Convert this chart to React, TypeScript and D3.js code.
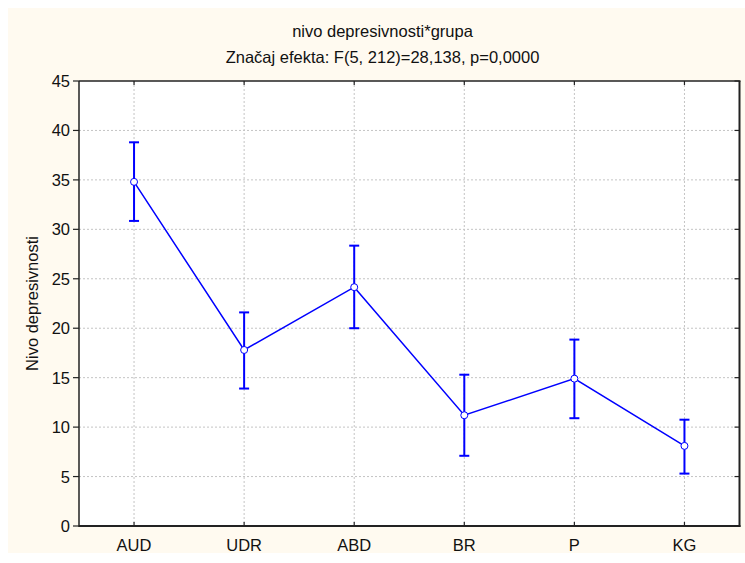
import React, { useEffect, useRef } from "react";
import * as d3 from "d3";

const categories = ["AUD", "UDR", "ABD", "BR", "P", "KG"];
const means = [34.8, 17.8, 24.15, 11.2, 14.9, 8.1];
const upper = [38.8, 21.6, 28.35, 15.3, 18.85, 10.75];
const lower = [30.85, 13.9, 20.0, 7.1, 10.9, 5.3];
const yTicks = [0, 5, 10, 15, 20, 25, 30, 35, 40, 45];
const title1 = "nivo depresivnosti*grupa";
const title2 = "Značaj efekta: F(5, 212)=28,138, p=0,0000";
const yLabel = "Nivo depresivnosti";

const W = 745, H = 563;
const L = 79, R = 739.5, T = 81, B = 526;
const FONT = "Arial, 'Liberation Sans', sans-serif";
const FS = 16.5;

export default function App() {
  const ref = useRef<SVGSVGElement>(null);
  useEffect(() => {
    const svg = d3.select(ref.current);
    svg.selectAll("*").remove();
    const x = d3.scalePoint<string>().domain(categories).range([L, R]).padding(0.5);
    const y = d3.scaleLinear().domain([0, 45]).range([B, T]);

    svg.append("rect").attr("x", 8).attr("y", 8).attr("width", W - 8).attr("height", 545).attr("fill", "#fffaf0");
    svg.append("rect").attr("x", L).attr("y", T).attr("width", R - L).attr("height", B - T).attr("fill", "#ffffff");

    // grid
    const g = svg.append("g");
    g.selectAll("line.gy").data(yTicks.filter(t => t > 0 && t < 45)).join("line")
      .attr("x1", L).attr("x2", R).attr("y1", d => y(d)).attr("y2", d => y(d))
      .attr("stroke", "#c4c4c4").attr("stroke-width", 1).attr("stroke-dasharray", "2,2");
    g.selectAll("line.gx").data(categories).join("line")
      .attr("x1", d => x(d)!).attr("x2", d => x(d)!).attr("y1", T).attr("y2", B)
      .attr("stroke", "#c4c4c4").attr("stroke-width", 1).attr("stroke-dasharray", "2,2");

    // frame
    svg.append("line").attr("x1", L).attr("x2", R + 1).attr("y1", T).attr("y2", T).attr("stroke", "#222").attr("stroke-width", 1.5);
    svg.append("line").attr("x1", L).attr("x2", R + 1).attr("y1", B).attr("y2", B).attr("stroke", "#222").attr("stroke-width", 2);
    svg.append("line").attr("x1", L).attr("x2", L).attr("y1", T).attr("y2", B + 1).attr("stroke", "#222").attr("stroke-width", 1.5);
    svg.append("line").attr("x1", R).attr("x2", R).attr("y1", T).attr("y2", B + 1).attr("stroke", "#222").attr("stroke-width", 2);

    // ticks
    svg.append("g").selectAll("line").data(yTicks).join("line")
      .attr("x1", L - 6).attr("x2", L).attr("y1", d => y(d)).attr("y2", d => y(d))
      .attr("stroke", "#222").attr("stroke-width", 1.2);
    svg.append("g").selectAll("line").data(yTicks).join("line")
      .attr("x1", R - 5).attr("x2", R).attr("y1", d => y(d)).attr("y2", d => y(d))
      .attr("stroke", "#222").attr("stroke-width", 1.2);
    svg.append("g").selectAll("line").data(categories).join("line")
      .attr("x1", d => x(d)!).attr("x2", d => x(d)!).attr("y1", T).attr("y2", T + 4)
      .attr("stroke", "#222").attr("stroke-width", 1.2);
    svg.append("g").selectAll("line").data(categories).join("line")
      .attr("x1", d => x(d)!).attr("x2", d => x(d)!).attr("y1", B - 4).attr("y2", B)
      .attr("stroke", "#222").attr("stroke-width", 1.2);

    // tick labels
    svg.append("g").selectAll("text").data(yTicks).join("text")
      .attr("x", 70).attr("y", d => y(d) + 6).attr("text-anchor", "end")
      .attr("font-family", FONT).attr("font-size", FS).attr("fill", "#111").text(d => String(d));
    svg.append("g").selectAll("text").data(categories).join("text")
      .attr("x", d => x(d)!).attr("y", 551).attr("text-anchor", "middle")
      .attr("font-family", FONT).attr("font-size", FS).attr("fill", "#111").text(d => d);

    // titles
    svg.append("text").attr("x", 382.5).attr("y", 36.5).attr("text-anchor", "middle")
      .attr("font-family", FONT).attr("font-size", FS).attr("fill", "#111").text(title1);
    svg.append("text").attr("x", 382.5).attr("y", 62.5).attr("text-anchor", "middle")
      .attr("font-family", FONT).attr("font-size", FS).attr("fill", "#111").text(title2);
    svg.append("text").attr("transform", `translate(38,${(T + B) / 2}) rotate(-90)`).attr("text-anchor", "middle")
      .attr("font-family", FONT).attr("font-size", FS).attr("fill", "#111").text(yLabel);

    const blue = "#0000ff";
    // error bars
    const eb = svg.append("g").attr("stroke", blue).attr("stroke-width", 2);
    categories.forEach((c, i) => {
      const cx = x(c)!;
      eb.append("line").attr("x1", cx).attr("x2", cx).attr("y1", y(upper[i])).attr("y2", y(lower[i]));
      eb.append("line").attr("x1", cx - 5).attr("x2", cx + 5).attr("y1", y(upper[i])).attr("y2", y(upper[i]));
      eb.append("line").attr("x1", cx - 5).attr("x2", cx + 5).attr("y1", y(lower[i])).attr("y2", y(lower[i]));
    });

    const line = d3.line<number>().x((_, i) => x(categories[i])!).y(d => y(d));
    svg.append("path").attr("d", line(means)).attr("fill", "none").attr("stroke", blue).attr("stroke-width", 1.5);

    svg.append("g").selectAll("circle").data(means).join("circle")
      .attr("cx", (_, i) => x(categories[i])!).attr("cy", d => y(d)).attr("r", 3.5)
      .attr("fill", "#fff").attr("stroke", blue).attr("stroke-width", 1);
  }, []);
  return (
    <svg ref={ref} width={W} height={H} style={{ position: "absolute", left: 0, top: 0 }} />
  );
}
